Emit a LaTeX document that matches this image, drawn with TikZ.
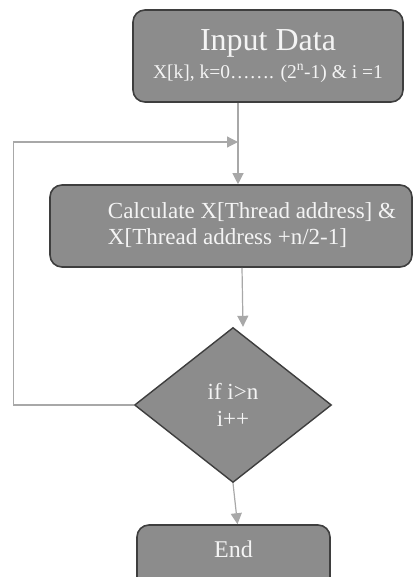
\documentclass[tikz,border=0pt]{standalone}
\usepackage{fontspec}
\setmainfont{Liberation Serif}
\usetikzlibrary{shapes.geometric,arrows.meta,positioning}
\definecolor{boxgray}{HTML}{8C8C8C}
\definecolor{rimgray}{HTML}{3E3E3E}
\definecolor{linkgray}{HTML}{A8A8A8}
\definecolor{txtwhite}{HTML}{F4F4F4}

\begin{document}
\begin{tikzpicture}[x=1pt,y=-1pt]

\tikzset{>={Triangle[width=11pt,length=11pt]}}
\tikzstyle{block} = [
	draw=rimgray, fill=boxgray, text=txtwhite, line width=1.6pt,
	rectangle, rounded corners=12pt, inner sep=0pt ];
\tikzstyle{decision} = [
	draw=rimgray, fill=boxgray, text=txtwhite, line width=1.4pt,
	diamond, inner sep=0pt, minimum width=197pt, minimum height=155pt ];
\tikzstyle{link} = [draw=linkgray, line width=1.2pt];

\useasboundingbox (0,0) rectangle (414,577);

\node[block,minimum width=270pt,minimum height=92pt,align=center,
	font=\fontsize{19.5}{28}\selectfont] (input) at (268,56)
	{{\fontsize{32}{28}\selectfont Input Data}\\
	 X[k], k=0……. (2\textsuperscript{n}-1) \& i =1};
\node[block,minimum width=362pt,minimum height=82pt,
	font=\fontsize{23}{26}\selectfont] (calc) at (231,226)
	{\hspace*{42pt}\begin{tabular}{@{}l@{}}
	 Calculate X[Thread address] \&\\
	 X[Thread address +n/2-1]\end{tabular}};
\node[decision,align=center,font=\fontsize{23}{27}\selectfont] (test) at (233,405)
	{if i>n\\ i++};
\node[block,minimum width=193pt,minimum height=65pt,text height=16pt,text depth=16pt,
	font=\fontsize{24}{26}\selectfont] (stop) at (233.5,557.5) {End};

% flow between the steps
\coordinate (merge) at (238,142);
\draw[link] (input.south -| merge) -- (merge);
\draw[link,->] (merge) -- (merge |- calc.north);
\draw[link,->] ([xshift=11pt]calc.south) -- ([xshift=10pt]test.north);
\draw[link,->] (test.south) -- ([xshift=4pt]stop.north);

% loop back while i <= n
\draw[link,->] (test.west) -- ++(-120,0) |- (merge);

\end{tikzpicture}
\end{document}
